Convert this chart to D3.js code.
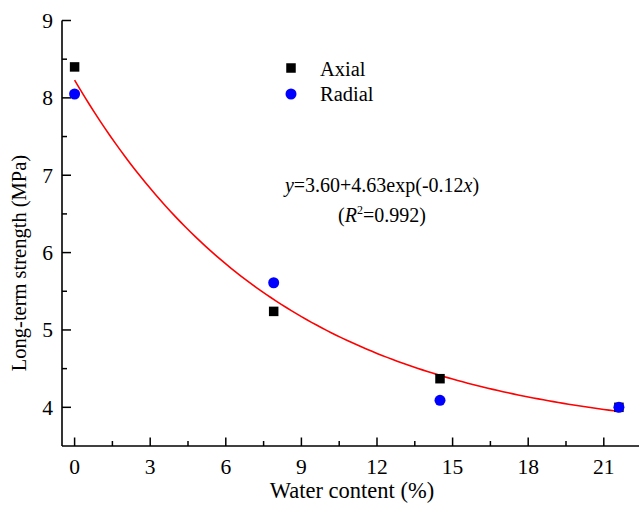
<!DOCTYPE html>
<html><head><meta charset="utf-8">
<script src="https://cdn.jsdelivr.net/npm/d3@7"></script>
<style>body{margin:0;background:#fff}svg{display:block}text{font-family:"Liberation Serif","Times New Roman",serif;fill:#000}</style>
</head><body>
<svg id="c" width="639" height="507"></svg>
<script>
const waterContent = [0, 7.9, 14.5, 21.6];
const axialStrength = [8.4, 5.24, 4.37, 4.0];
const radialStrength = [8.05, 5.61, 4.09, 4.0];
const xTicks = [0, 3, 6, 9, 12, 15, 18, 21];
const yTicks = [4, 5, 6, 7, 8, 9];
const fitParams = [3.60, 4.63, -0.12]; // y = a + b*exp(c*x)
const fitRange = [0, 21.6];

const svg = d3.select("#c");
const x = d3.scaleLinear().domain([-0.5, 22.5]).range([62, 641.6]);
const y = d3.scaleLinear().domain([3.5, 9]).range([446, 20.5]);

// axes
const xAxis = svg.append("g").attr("transform", "translate(0,446)");
xAxis.append("line").attr("x1", x(-0.5)).attr("x2", 639).attr("stroke", "#000").attr("stroke-width", 1.6);
const xMinor = d3.range(0, 22.5, 1.5);
xAxis.selectAll(".mn").data(xMinor).join("line").attr("x1", d => x(d)).attr("x2", d => x(d))
  .attr("y1", 0).attr("y2", d => xTicks.includes(d) ? -8.5 : -5).attr("stroke", "#000").attr("stroke-width", 1.5);
xAxis.selectAll("text").data(xTicks).join("text").attr("x", d => x(d)).attr("y", 28)
  .attr("text-anchor", "middle").attr("font-size", 21.5).text(d => d);

const yAxis = svg.append("g").attr("transform", "translate(62,0)");
yAxis.append("line").attr("y1", y(3.5)).attr("y2", y(9)).attr("stroke", "#000").attr("stroke-width", 1.6);
const yMinor = d3.range(4, 9.01, 0.5);
yAxis.selectAll(".mn").data(yMinor).join("line").attr("y1", d => y(d)).attr("y2", d => y(d))
  .attr("x1", 0).attr("x2", d => Number.isInteger(d) ? 9 : 5).attr("stroke", "#000").attr("stroke-width", 1.5);
yAxis.selectAll("text").data(yTicks).join("text").attr("x", -9).attr("y", d => y(d) + 7.5)
  .attr("text-anchor", "end").attr("font-size", 21.5).text(d => d);

// titles
svg.append("text").attr("x", 352).attr("y", 498).attr("text-anchor", "middle").attr("font-size", 22.5).text("Water content (%)");
svg.append("text").attr("transform", "translate(26,263) rotate(-90)").attr("text-anchor", "middle").attr("font-size", 20.5).text("Long-term strength (MPa)");

// fit curve
const curveX = d3.range(fitRange[0], fitRange[1] + 0.001, 0.2);
const line = d3.line().x(d => x(d)).y(d => y(fitParams[0] + fitParams[1] * Math.exp(fitParams[2] * d)));
svg.append("path").datum(curveX).attr("d", line).attr("fill", "none").attr("stroke", "#ff0000").attr("stroke-width", 1.6);

// points
const s = 9.5;
svg.selectAll(".ax").data(waterContent).join("rect").attr("x", d => x(d) - s / 2)
  .attr("y", (d, i) => y(axialStrength[i]) - s / 2).attr("width", s).attr("height", s).attr("fill", "#000");
svg.selectAll(".rd").data(waterContent).join("circle").attr("cx", d => x(d))
  .attr("cy", (d, i) => y(radialStrength[i])).attr("r", 5.5).attr("fill", "#0000ff");

// legend
svg.append("rect").attr("x", 291 - s / 2).attr("y", 68 - s / 2).attr("width", s).attr("height", s).attr("fill", "#000");
svg.append("circle").attr("cx", 291).attr("cy", 94).attr("r", 5.5).attr("fill", "#0000ff");
svg.append("text").attr("x", 320).attr("y", 76).attr("font-size", 20.5).text("Axial");
svg.append("text").attr("x", 320).attr("y", 101).attr("font-size", 20.5).text("Radial");

// equation
const eq = svg.append("text").attr("x", 382).attr("y", 192).attr("text-anchor", "middle").attr("font-size", 20);
eq.append("tspan").attr("font-style", "italic").text("y");
eq.append("tspan").text("=3.60+4.63exp(-0.12");
eq.append("tspan").attr("font-style", "italic").text("x");
eq.append("tspan").text(")");
const r2 = svg.append("text").attr("x", 382).attr("y", 222).attr("text-anchor", "middle").attr("font-size", 20);
r2.append("tspan").text("(");
r2.append("tspan").attr("font-style", "italic").text("R");
r2.append("tspan").attr("font-size", 12).attr("dy", -8).text("2");
r2.append("tspan").attr("dy", 8).text("=0.992)");
</script>
</body></html>
